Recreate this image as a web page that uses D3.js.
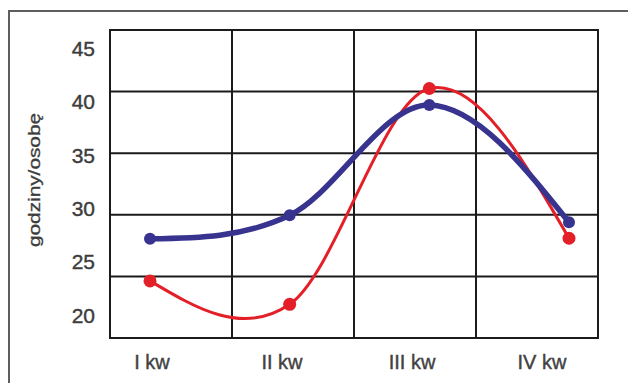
<!DOCTYPE html>
<html>
<head>
<meta charset="utf-8">
<script src="https://cdn.jsdelivr.net/npm/d3@7/dist/d3.min.js"></script>
<style>
  html, body { margin: 0; padding: 0; background: #fff; }
  svg { display: block; }
</style>
</head>
<body>
<svg id="chart" width="628" height="383"></svg>
<script>
// Quarterly hours per person, two series
const quarters = ["I kw", "II kw", "III kw", "IV kw"];
const seriesBlue = [27.15, 29.35, 39.7, 28.7];
const seriesRed = [23.2, 21.0, 41.25, 27.2];
const yTicks = [20, 25, 30, 35, 40, 45];
const yTitle = "godziny/osobę";
const gridCols = 4;
const gridRows = 5;

const svg = d3.select("#chart");

// plot frame
const frame = { left: 110, top: 30, right: 598, bottom: 338 };

// outer panel border (continues past the window edges)
svg.append("rect")
  .attr("x", 9).attr("y", 11)
  .attr("width", 700).attr("height", 500)
  .attr("fill", "none")
  .attr("stroke", "#5e5e5e")
  .attr("stroke-width", 2);

// value scale for ticks and data
const y = d3.scaleLinear().domain([20, 45]).range([315, 48.5]);
// positions of the data points
const x = d3.scalePoint().domain(quarters).range([150, 569]);
// positions of the category labels
const xLabel = d3.scalePoint().domain(quarters).range([152, 542]);

// grid divisions of the frame
const gx = d3.scaleLinear().domain([0, gridCols]).range([frame.left, frame.right]);
const gy = d3.scaleLinear().domain([0, gridRows]).range([frame.top, frame.bottom]);

const grid = svg.append("g").attr("stroke", "#1b1b1b").attr("stroke-width", 2);
grid.selectAll("line.v")
  .data(d3.range(1, gridCols))
  .join("line")
  .attr("class", "v")
  .attr("x1", d => gx(d)).attr("x2", d => gx(d))
  .attr("y1", frame.top).attr("y2", frame.bottom);
grid.selectAll("line.h")
  .data(d3.range(1, gridRows))
  .join("line")
  .attr("class", "h")
  .attr("y1", d => gy(d)).attr("y2", d => gy(d))
  .attr("x1", frame.left).attr("x2", frame.right);
grid.append("rect")
  .attr("x", frame.left).attr("y", frame.top)
  .attr("width", frame.right - frame.left)
  .attr("height", frame.bottom - frame.top)
  .attr("fill", "none");

const font = "'Liberation Sans', Arial, sans-serif";

// y tick labels
svg.append("g")
  .selectAll("text")
  .data(yTicks)
  .join("text")
  .attr("x", 95)
  .attr("y", d => y(d))
  .attr("dy", "0.36em")
  .attr("text-anchor", "end")
  .attr("font-family", font)
  .attr("font-size", 21)
  .attr("fill", "#3c3c3c")
  .attr("stroke", "#3c3c3c")
  .attr("stroke-width", 0.4)
  .text(d => d);

// category labels
svg.append("g")
  .selectAll("text")
  .data(quarters)
  .join("text")
  .attr("x", d => xLabel(d))
  .attr("y", 369)
  .attr("text-anchor", "middle")
  .attr("font-family", font)
  .attr("font-size", 20)
  .attr("fill", "#424242")
  .attr("stroke", "#424242")
  .attr("stroke-width", 0.4)
  .text(d => d);

// y axis title
svg.append("text")
  .attr("transform", "translate(40,180) rotate(-90)")
  .attr("text-anchor", "middle")
  .attr("font-family", font)
  .attr("font-size", 16)
  .attr("textLength", 134)
  .attr("lengthAdjust", "spacingAndGlyphs")
  .attr("fill", "#3c3c3c")
  .attr("stroke", "#3c3c3c")
  .attr("stroke-width", 0.3)
  .text(yTitle);

// Smooth curve: Catmull-Rom tangents inside, natural (zero curvature) ends
function curveSmooth(context) {
  let pts;
  return {
    areaStart() {}, areaEnd() {},
    lineStart() { pts = []; },
    point(px, py) { pts.push([+px, +py]); },
    lineEnd() {
      const n = pts.length;
      if (!n) return;
      context.moveTo(pts[0][0], pts[0][1]);
      if (n === 1) return;
      if (n === 2) { context.lineTo(pts[1][0], pts[1][1]); return; }
      const t = pts.map(() => [0, 0]);
      for (let i = 1; i < n - 1; i++) {
        t[i] = [(pts[i + 1][0] - pts[i - 1][0]) / 2, (pts[i + 1][1] - pts[i - 1][1]) / 2];
      }
      t[0] = [(3 * (pts[1][0] - pts[0][0]) - t[1][0]) / 2,
              (3 * (pts[1][1] - pts[0][1]) - t[1][1]) / 2];
      t[n - 1] = [(3 * (pts[n - 1][0] - pts[n - 2][0]) - t[n - 2][0]) / 2,
                  (3 * (pts[n - 1][1] - pts[n - 2][1]) - t[n - 2][1]) / 2];
      for (let i = 0; i < n - 1; i++) {
        const p0 = pts[i], p1 = pts[i + 1];
        context.bezierCurveTo(
          p0[0] + t[i][0] / 3, p0[1] + t[i][1] / 3,
          p1[0] - t[i + 1][0] / 3, p1[1] - t[i + 1][1] / 3,
          p1[0], p1[1]);
      }
    }
  };
}

const line = d3.line()
  .x((d, i) => x(quarters[i]))
  .y(d => y(d))
  .curve(curveSmooth);

function drawSeries(values, color, width, r) {
  svg.append("path")
    .datum(values)
    .attr("d", line)
    .attr("fill", "none")
    .attr("stroke", color)
    .attr("stroke-width", width)
    .attr("stroke-linecap", "round");
  svg.append("g")
    .selectAll("circle")
    .data(values)
    .join("circle")
    .attr("cx", (d, i) => x(quarters[i]))
    .attr("cy", d => y(d))
    .attr("r", r)
    .attr("fill", color);
}

drawSeries(seriesRed, "#e31f28", 3, 6.5);
drawSeries(seriesBlue, "#37338e", 5.5, 6);
</script>
</body>
</html>
